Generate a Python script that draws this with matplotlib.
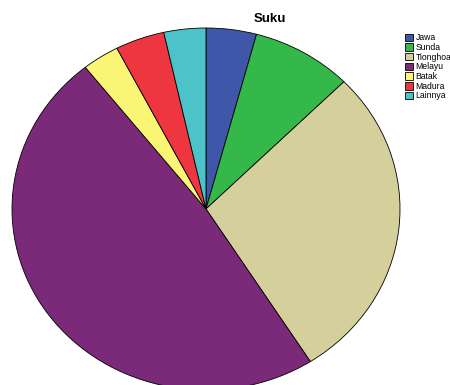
import matplotlib
matplotlib.use('Agg')
import matplotlib.pyplot as plt

### 0. Data
labels = ['Jawa', 'Sunda', 'Tionghoa', 'Melayu', 'Batak', 'Madura', 'Lainnya']
values = [4.2, 8.4, 28.4, 48.4, 3.1, 4.1, 3.5]
colors = ['#3f57a8', '#35b84a', '#d4cf9b', '#7b2a7a', '#faf575', '#ee3640', '#4bc3c8']

plt.rcParams['font.family'] = ['Liberation Sans', 'DejaVu Sans']

### 1. Figure
W, H = 450, 385
fig = plt.figure(figsize=(W/100, H/100), dpi=100)
# pie area in pixels: x 12..400, y (from top) 28..390
ax = fig.add_axes([12/W, (H-390)/H, 388/W, 362/H])
wedges, _ = ax.pie(values, colors=colors, startangle=90, counterclock=False,
                   wedgeprops=dict(edgecolor='black', linewidth=0.6))
ax.set_aspect('auto')
ax.set_xlim(-1, 1)
ax.set_ylim(-1, 1)
for w in wedges:
    w.set_clip_on(False)

fig.text(270/W, 1-19/H, 'Suku', ha='center', va='center',
         fontsize=9.5, fontweight='bold')

fig.legend(wedges, labels, loc='upper left', bbox_to_anchor=(401/W, 1-29/H),
           frameon=False, fontsize=6.2, handlelength=0.95, handleheight=0.95,
           handletextpad=0.25, labelspacing=0.08, borderpad=0)

fig.savefig('out.png', dpi=100)
